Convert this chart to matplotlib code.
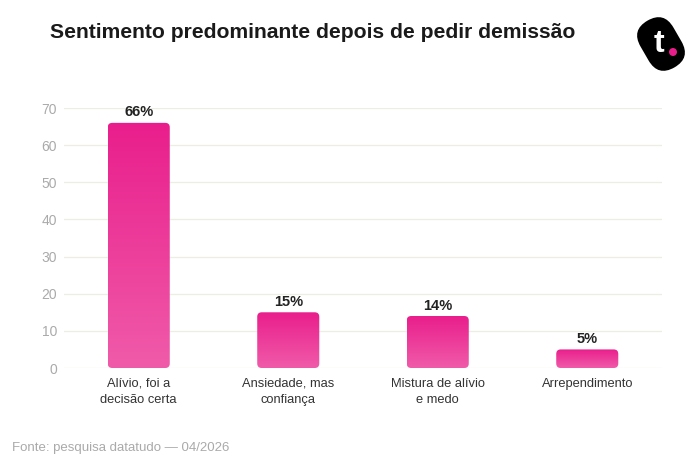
import numpy as np
import matplotlib
matplotlib.use("Agg")
import matplotlib.pyplot as plt
import matplotlib.transforms as mtransforms
from matplotlib.patches import FancyBboxPatch, Circle
from matplotlib.colors import LinearSegmentedColormap

plt.rcParams['font.family'] = ['Liberation Sans', 'DejaVu Sans']

categories = ["Alívio, foi a\ndecisão certa", "Ansiedade, mas\nconfiança", "Mistura de alívio\ne medo", "Arrependimento"]
values = [66, 15, 14, 5]
yticks = [0, 10, 20, 30, 40, 50, 60, 70]
title = "Sentimento predominante depois de pedir demissão"
source = "Fonte: pesquisa datatudo — 04/2026"

W, H = 700, 474
fig = plt.figure(figsize=(W / 100, H / 100), dpi=100)
fig.patch.set_facecolor("white")

ax = fig.add_axes([64 / W, (H - 368) / H, (662 - 64) / W, (368 - 108) / H])
ax.set_xlim(-0.5, len(categories) - 0.5)
ax.set_ylim(0, 70)
for s in ax.spines.values():
    s.set_visible(False)
ax.set_yticks(yticks)
ax.set_yticklabels([str(t) for t in yticks], color="#AAAAAA", fontsize=10)
ax.set_xticks(range(len(categories)))
ax.set_xticklabels(categories, color="#333333", fontsize=9.3, linespacing=1.5)
ax.tick_params(axis="both", length=0)
ax.tick_params(axis="y", pad=5)
ax.tick_params(axis="x", pad=7)
ax.grid(axis="y", color="#EDEDE4", linewidth=0.9)
ax.set_axisbelow(True)

cmap = LinearSegmentedColormap.from_list("pk", ["#F05BA9", "#E91E8C"])
grad = np.linspace(0, 1, 256).reshape(-1, 1)
bw = 0.415
bars = ax.bar(range(len(values)), values, width=bw, color="none", edgecolor="none")
x_px_per_unit = (662 - 64) / len(categories)
y_px_per_unit = (368 - 108) / 70
r_px = 4.5
rx = r_px / x_px_per_unit
ry = r_px / y_px_per_unit
for b, v in zip(bars, values):
    x0 = b.get_x()
    patch = FancyBboxPatch((x0, 0), bw, v, boxstyle=f"round,pad=0,rounding_size={rx}",
                           mutation_aspect=ry / rx, facecolor="none", edgecolor="none")
    ax.add_patch(patch)
    im = ax.imshow(grad, cmap=cmap, aspect="auto", origin="lower",
                   extent=(x0, x0 + bw, 0, v), zorder=2)
    im.set_clip_path(patch)
    ax.annotate(f"{v}%", (b.get_x() + bw / 2, v), xytext=(0, 2.5), textcoords="offset points",
                ha="center", va="bottom", fontsize=10.5, fontweight="bold", color="#222222")
ax.set_xlim(-0.5, len(categories) - 0.5)
ax.set_ylim(0, 70)

fig.text(50 / W, 1 - 32 / H, title, fontsize=15.2, fontweight="bold", color="#1a1a1a",
         ha="left", va="center")
fig.text(12 / W, 1 - 448 / H, source, fontsize=9.5, color="#AAAAAA", ha="left", va="center")

# logo
lax = fig.add_axes([620 / W, 1 - 80 / H, 80 / W, 70 / H])
lax.set_xlim(620, 700)
lax.set_ylim(80, 10)
lax.set_aspect("equal")
lax.axis("off")
L, w = 54, 38
lax.add_patch(FancyBboxPatch((661 - L / 2, 44 - w / 2), L, w, boxstyle=f"round,pad=0,rounding_size={w / 2}",
                             facecolor="black", edgecolor="none",
                             transform=mtransforms.Affine2D().rotate_deg_around(661, 44, 60) + lax.transData))
lax.text(659, 44, "t", fontsize=23, fontweight="bold", color="white", ha="center", va="center")
lax.add_patch(Circle((673, 52), 4, facecolor="#E91E8C", edgecolor="none"))

fig.savefig("out.png", dpi=100, facecolor="white")
